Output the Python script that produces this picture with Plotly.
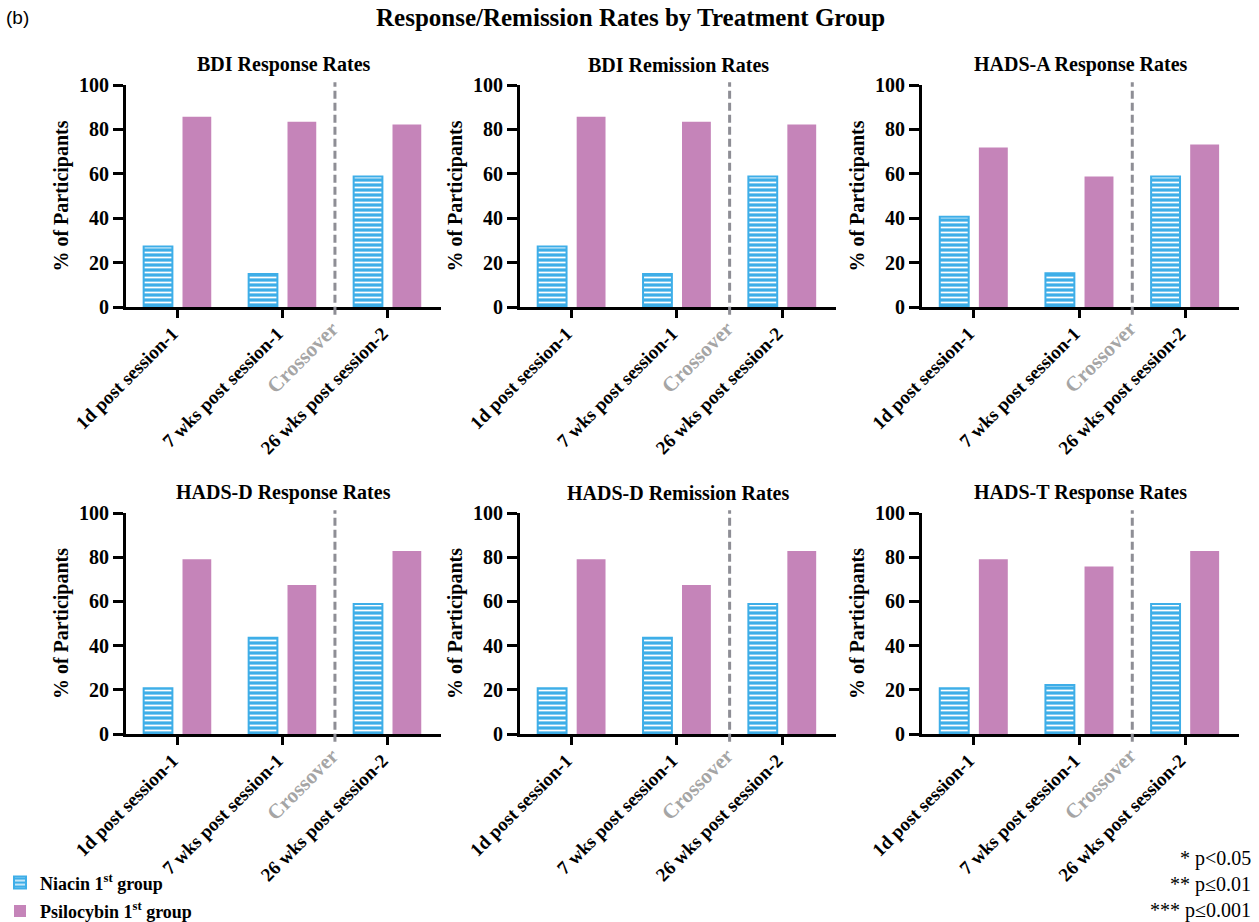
import plotly.graph_objects as go

# ---------------- data ----------------
categories = ["1d post session-1", "7 wks post session-1", "26 wks post session-2"]
panel_titles = [
    "BDI Response Rates", "BDI Remission Rates", "HADS-A Response Rates",
    "HADS-D Response Rates", "HADS-D Remission Rates", "HADS-T Response Rates",
]
niacin_bdi_response = [27.3, 14.9, 58.8]
psilo_bdi_response = [85.7, 83.5, 82.2]
niacin_bdi_remission = [27.3, 14.9, 58.8]
psilo_bdi_remission = [85.7, 83.5, 82.2]
niacin_hadsa_response = [40.7, 15.2, 58.8]
psilo_hadsa_response = [71.9, 58.8, 73.2]
niacin_hadsd_response = [20.7, 43.6, 58.8]
psilo_hadsd_response = [79.1, 67.4, 82.8]
niacin_hadsd_remission = [20.7, 43.6, 58.8]
psilo_hadsd_remission = [79.1, 67.4, 82.8]
niacin_hadst_response = [20.7, 22.2, 58.8]
psilo_hadst_response = [79.1, 75.8, 82.8]
y_ticks = [0, 20, 40, 60, 80, 100]
crossover_pos = 1.5
series_names = ["Niacin 1<sup>st</sup> group", "Psilocybin 1<sup>st</sup> group"]
p_notes = ["* p<0.05", "** p≤0.01", "*** p≤0.001"]

panels = [
    (panel_titles[0], niacin_bdi_response, psilo_bdi_response),
    (panel_titles[1], niacin_bdi_remission, psilo_bdi_remission),
    (panel_titles[2], niacin_hadsa_response, psilo_hadsa_response),
    (panel_titles[3], niacin_hadsd_response, psilo_hadsd_response),
    (panel_titles[4], niacin_hadsd_remission, psilo_hadsd_remission),
    (panel_titles[5], niacin_hadst_response, psilo_hadst_response),
]

# ---------------- style ----------------
W, H = 1259, 922
BLUE = "#3eaee8"
PURPLE = "#c584b9"
DASH_GRAY = "#8e8e95"
TEXT_GRAY = "#a5a5a5"
SERIF = "Liberation Serif"
x_domains_px = [(126, 441), (520, 836), (922, 1239)]
y_domains_px = [(85, 307), (513, 734)]
XR = [-0.49, 2.51]

fig = go.Figure()
layout_axes = {}
annotations = []
shapes = []

for i, (title, niacin, psilo) in enumerate(panels):
    n = i + 1
    sfx = "" if n == 1 else str(n)
    xa, ya = "x" + sfx, "y" + sfx
    fig.add_trace(go.Bar(
        x=categories, y=niacin, name=series_names[0], xaxis=xa, yaxis=ya,
        marker=dict(color=BLUE, line=dict(color=BLUE, width=2),
                    pattern=dict(shape="-", fgcolor="white", bgcolor=BLUE,
                                 size=5, solidity=0.35)),
        showlegend=(n == 1), legendgroup="niacin",
    ))
    fig.add_trace(go.Bar(
        x=categories, y=psilo, name=series_names[1], xaxis=xa, yaxis=ya,
        marker=dict(color=PURPLE, line=dict(color=PURPLE, width=0)),
        showlegend=(n == 1), legendgroup="psilo",
    ))
    col, row = i % 3, i // 3
    x0, x1 = x_domains_px[col]
    y0, y1 = y_domains_px[row]
    layout_axes["xaxis" + sfx] = dict(
        domain=[x0 / W, x1 / W], anchor=ya, type="category", range=XR,
        automargin=False,
        showline=True, linewidth=3, linecolor="black",
        ticks="outside", ticklen=8, tickwidth=3, tickcolor="black",
        tickangle=-45, showgrid=False, zeroline=False,
        ticklabelshift=-5, ticklabelstandoff=-3,
        tickfont=dict(family=SERIF, size=19, color="black", weight="bold"),
    )
    layout_axes["yaxis" + sfx] = dict(
        domain=[1 - y1 / H, 1 - y0 / H], anchor=xa, range=[0, 100],
        automargin=False,
        tickvals=y_ticks, showline=True, linewidth=3, linecolor="black",
        ticks="outside", ticklen=10, tickwidth=3, tickcolor="black",
        showgrid=False, zeroline=False,
        tickfont=dict(family=SERIF, size=20, color="black", weight="bold"),
        title=dict(text="% of Participants", standoff=6,
                   font=dict(family=SERIF, size=20, color="black", weight="bold")),
    )
    # panel title
    annotations.append(dict(
        text=title, xref=xa + " domain", yref=ya + " domain", x=0.5, y=1,
        xanchor="center", yanchor="bottom", yshift=7, showarrow=False,
        font=dict(family=SERIF, size=20, color="black", weight="bold"),
    ))
    # crossover label
    annotations.append(dict(
        text="Crossover", xref=xa, yref=ya, x=crossover_pos, y=0,
        xanchor="center", yanchor="middle",
        xshift=-32, yshift=-50, textangle=-45, showarrow=False,
        font=dict(family=SERIF, size=21, color=TEXT_GRAY, weight="bold"),
    ))
    frac = (crossover_pos - XR[0]) / (XR[1] - XR[0])
    shapes.append(dict(
        type="line", xref=xa + " domain", yref=ya + " domain",
        x0=frac, x1=frac, y0=-0.035, y1=1.012,
        line=dict(color=DASH_GRAY, width=3, dash="8px,4px"),
    ))

annotations.append(dict(
    text="Response/Remission Rates by Treatment Group", xref="paper", yref="paper",
    x=630 / W, y=1 - 18 / H, xanchor="center", yanchor="middle", showarrow=False,
    font=dict(family=SERIF, size=25, color="black", weight="bold"),
))
annotations.append(dict(
    text="(b)", xref="paper", yref="paper", x=4 / W, y=1 - 18 / H,
    xanchor="left", yanchor="middle", showarrow=False,
    font=dict(family="Liberation Sans", size=19, color="black"),
))
for k, note in enumerate(p_notes):
    annotations.append(dict(
        text=note, xref="paper", yref="paper", x=1 - 6 / W,
        y=1 - (858 + 26 * k) / H, xanchor="right", yanchor="middle",
        showarrow=False, font=dict(family=SERIF, size=20, color="black"),
    ))

fig.update_layout(
    template="none",
    width=W, height=H, margin=dict(l=0, r=0, t=0, b=0, pad=0, autoexpand=False),
    paper_bgcolor="white", plot_bgcolor="white",
    barmode="group", bargap=0.26, bargroupgap=0.26,
    annotations=annotations, shapes=shapes,
    legend=dict(x=0, y=-0.008, xanchor="left", yanchor="bottom",
                bgcolor="rgba(0,0,0,0)", tracegroupgap=2, borderwidth=0,
                font=dict(family=SERIF, size=18, color="black", weight="bold")),
    **layout_axes,
)

fig.write_html("out.html", config={"displayModeBar": False},
               post_script="document.body.style.margin='0px';")
